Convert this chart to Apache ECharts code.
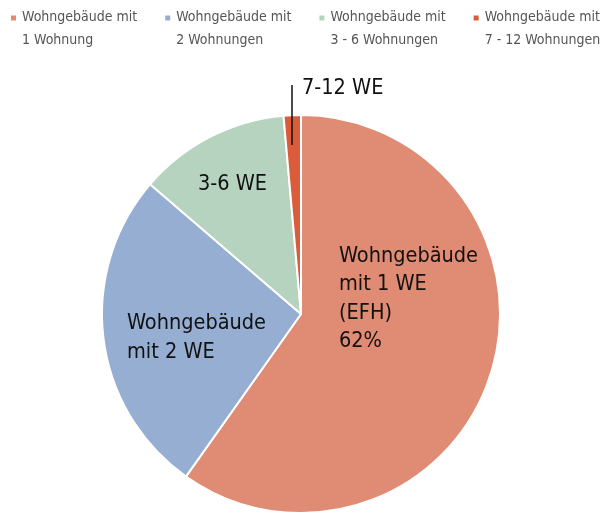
<!DOCTYPE html>
<html>
<head>
<meta charset="UTF-8">
<title>Wohngebäude nach Anzahl der Wohnungen</title>
<script src="https://cdn.jsdelivr.net/npm/echarts@6/dist/echarts.min.js"></script>
<style>
	html, body { margin: 0; padding: 0; background: #fff; }
	#chart { width: 608px; height: 515px; }
</style>
</head>
<body>
<div id="chart"></div>
<script>
// Legendeneinträge
var legendNames = ['Wohngebäude mit\n1 Wohnung', 'Wohngebäude mit\n2 Wohnungen', 'Wohngebäude mit\n3 - 6 Wohnungen', 'Wohngebäude mit\n7 - 12 Wohnungen'];
// Beschriftung im Kreis
var sliceLabels = ['Wohngebäude\nmit 1 WE\n(EFH)\n62%', 'Wohngebäude\nmit 2 WE', '3-6 WE', '7-12 WE'];
// Anteile in % (aus dem Bild geschätzt)
var shares = [59.8, 26.5, 12.3, 1.4];
var colors = ['#E08B74', '#95AED1', '#B5D3BF', '#DB5C3A'];

var FONT = "'DejaVu Sans Condensed', 'Liberation Sans', sans-serif";

// Lage der Beschriftungen
var labelPos = [
	{ x: 339, y: 299 },
	{ x: 127, y: 338 },
	{ x: 198, y: 184 },
	{ x: 302, y: 88 }
];

var dt = [];
for (var i = 0; i < shares.length; i++) {
	dt.push({
		name: legendNames[i],
		value: shares[i],
		itemStyle: { color: colors[i] },
		label: { formatter: sliceLabels[i] }
	});
}

var chart = echarts.init(document.getElementById('chart'));
var op = {
	animation: false,
	legend: {
		left: 9,
		width: 599,
		top: 6,
		padding: 0,
		itemGap: 26,
		itemWidth: 7,
		itemHeight: 29,
		itemTextGap: 6,
		// Quadrat oben, damit es auf Höhe der ersten Zeile sitzt
		icon: 'path://M0,0h10v10h-10z M0,41h0.01v0.3h-0.01z',
		textStyle: { fontFamily: FONT, fontSize: 14, color: '#555', lineHeight: 23 },
		data: legendNames
	},
	// Hinweislinie zu 7-12 WE
	graphic: [{
		type: 'line',
		z: 100,
		shape: { x1: 292, y1: 85, x2: 292, y2: 145 },
		style: { stroke: '#111', lineWidth: 1.5 }
	}],
	series: [{
		type: 'pie',
		center: [301, 314],
		radius: 199,
		startAngle: 90,
		clockwise: true,
		silent: true,
		itemStyle: { borderColor: '#fff', borderWidth: 2 },
		label: {
			show: true,
			position: 'inside',
			color: '#111',
			fontFamily: FONT,
			fontSize: 21.5,
			lineHeight: 28.5,
			align: 'left'
		},
		labelLine: { show: false },
		labelLayout: function (params) {
			var p = labelPos[params.dataIndex];
			return { x: p.x, y: p.y, align: 'left', verticalAlign: 'middle' };
		},
		data: dt
	}]
};
chart.setOption(op);
</script>
</body>
</html>
